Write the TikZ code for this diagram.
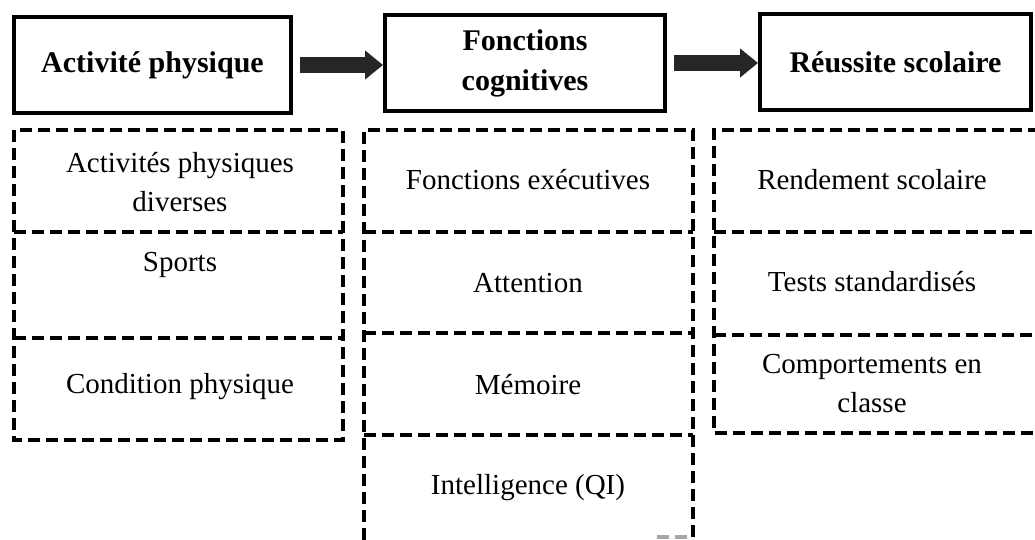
\documentclass[tikz,border=0pt]{standalone}
\usepackage{fontspec}
\setmainfont{Liberation Serif}
\usetikzlibrary{arrows.meta}
\tikzset{
 headbox/.style={draw, line width=4pt, inner sep=0pt, align=center, font=\fontsize{30}{40}\selectfont\bfseries},
 cellbox/.style={align=center, font=\fontsize{29}{39}\selectfont, inner sep=0pt},
 dashline/.style={line width=4pt, dash pattern=on 12pt off 6pt},
 bigarrow/.style={line width=16pt, draw=black!85, -{Triangle[length=18pt,width=28pt]}, shorten <=7pt},
}
\begin{document}
\begin{tikzpicture}[x=1pt,y=-1pt]
\useasboundingbox (0,0) rectangle (1035,540);
% header boxes
\node[headbox, minimum width=277pt, minimum height=96pt] (A) at (152.5,65) {Activité physique};
\node[headbox, minimum width=280pt, minimum height=96pt] (B) at (525,63) {Fonctions\\cognitives};
\node[headbox, minimum width=271pt, minimum height=96pt] (C) at (895.5,62) {Réussite scolaire};
\draw[bigarrow] (A.east) -- (A.east -| B.west);
\draw[bigarrow] (B.east) -- (B.east -| C.west);
% column A
\draw[dashline] (14,130) rectangle (343,440);
\draw[dashline] (14,232) -- (343,232);
\draw[dashline] (14,338) -- (343,338);
% column B
\draw[dashline] (364,540) -- (364,130) -- (693,130) -- (693,540);
\draw[dashline] (364,232) -- (693,232);
\draw[dashline] (364,333) -- (693,333);
\draw[dashline] (364,435) -- (693,435);
\draw[dashline, draw=black!35] (657,537) -- (693,537);
% column C
\draw[dashline] (1040,130) -- (714,130) -- (714,433) -- (1040,433);
\draw[dashline] (714,232) -- (1040,232);
\draw[dashline] (714,335) -- (1040,335);
% texts
\node[cellbox] (a1) at (180,182) {Activités physiques\\diverses};
\node[cellbox] (a2) at (180,265) {Sports};
\node[cellbox] (a3) at (180,387) {Condition physique};
\node[cellbox] (b1) at (528,180) {Fonctions exécutives};
\node[cellbox] (b2) at (528,283) {Attention};
\node[cellbox] (b3) at (528,385) {Mémoire};
\node[cellbox] (b4) at (528,488) {Intelligence (QI)};
\node[cellbox] (c1) at (872,180) {Rendement scolaire};
\node[cellbox] (c2) at (872,282) {Tests standardisés};
\node[cellbox] (c3) at (872,384) {Comportements en\\classe};
\end{tikzpicture}
\end{document}
